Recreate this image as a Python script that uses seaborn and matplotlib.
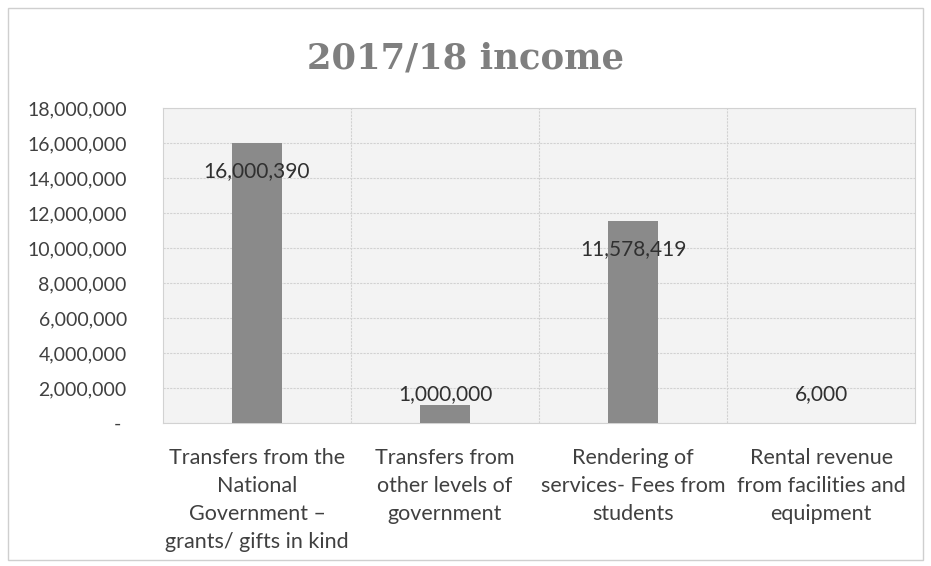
import matplotlib
matplotlib.use('Agg')
import matplotlib.pyplot as plt
import matplotlib.ticker as mticker
import seaborn as sns
import pandas as pd

# data
categories = [
    'Transfers from the\nNational\nGovernment –\ngrants/ gifts in kind',
    'Transfers from\nother levels of\ngovernment',
    'Rendering of\nservices- Fees from\nstudents',
    'Rental revenue\nfrom facilities and\nequipment',
]
income = [16000390, 1000000, 11578419, 6000]
value_labels = ['16,000,390', '1,000,000', '11,578,419', '6,000']

df = pd.DataFrame({'category': categories, 'income': income})

sns.set_theme(style='white')
plt.rcParams['font.family'] = ['Lato', 'DejaVu Sans']

fig = plt.figure(figsize=(9.31, 5.66), dpi=100)
ax = fig.add_axes([0.175, 0.2527, 0.808, 0.556])
ax.set_facecolor('#f3f3f3')

sns.barplot(data=df, x='category', y='income', color='#8a8a8a',
            width=0.27, saturation=1, linewidth=0, ax=ax, zorder=3)

ymax = 18000000
ax.set_ylim(0, ymax)
ax.set_yticks(range(0, ymax + 1, 2000000))


def fmt(v, pos):
    if v == 0:
        return '- '
    return f'{int(v):,}'


ax.yaxis.set_major_formatter(mticker.FuncFormatter(fmt))
ax.tick_params(axis='y', labelsize=14, colors='#404040', length=0, pad=26)
ax.tick_params(axis='x', labelsize=15.5, colors='#404040', length=0, pad=18)
for lab in ax.get_xticklabels():
    lab.set_linespacing(1.5)

ax.set_xlabel('')
ax.set_ylabel('')

# grid: horizontal at each tick, vertical at category boundaries
ax.grid(axis='y', color='#d2d2d2', linewidth=0.8, linestyle=(0, (2, 1)), zorder=0)
for b in [0.5, 1.5, 2.5]:
    ax.axvline(b, color='#d2d2d2', linewidth=0.8, linestyle=(0, (2, 1)), zorder=0)
for s in ax.spines.values():
    s.set_color('#d2d2d2')
    s.set_linewidth(0.8)

# value labels: inside end for tall bars, above for short ones
for i, (v, t) in enumerate(zip(income, value_labels)):
    if v > 5000000:
        ax.annotate(t, (i, v), xytext=(0, -13), textcoords='offset points',
                    ha='center', va='top', fontsize=15, color='#303030', zorder=4)
    else:
        ax.annotate(t, (i, max(v, 0.055 * ymax)), xytext=(0, 1), textcoords='offset points',
                    ha='center', va='bottom', fontsize=15, color='#303030', zorder=4)

fig.text(0.5, 0.897, '2017/18 income', ha='center', va='center',
         fontsize=25.5, fontweight='bold', color='#7f7f7f',
         family=['DejaVu Serif'])

# outer chart border
fig.patches.append(plt.Rectangle((0.009, 0.01), 0.982, 0.975, transform=fig.transFigure,
                                 fill=False, edgecolor='#cfcfcf', linewidth=1))

fig.savefig('out.png', dpi=100)
